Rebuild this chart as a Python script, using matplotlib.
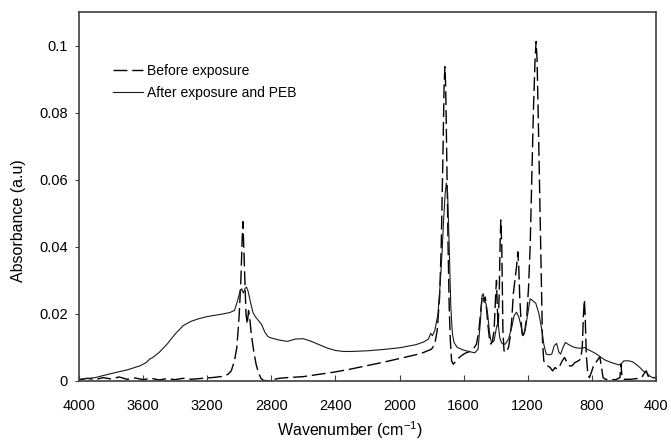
# plot.py - FTIR spectra before / after exposure
import numpy as np
import matplotlib.pyplot as plt

plt.rcParams['font.family'] = ['Liberation Sans', 'DejaVu Sans']
plt.rcParams['lines.scale_dashes'] = False

# Before exposure (dashed)
wn_before = [4000, 3950, 3900, 3850, 3800, 3750, 3700, 3650, 3600, 3550, 3500, 3450,
             3400, 3350, 3300, 3250, 3200, 3150, 3100, 3070, 3050, 3030, 3015, 3000,
             2990, 2982, 2977, 2972, 2965, 2958, 2950, 2942, 2935, 2925, 2910, 2895,
             2880, 2865, 2850, 2820, 2800, 2750, 2700, 2600, 2500, 2400, 2300, 2200,
             2100, 2000, 1900, 1850, 1800, 1780, 1765, 1750, 1740, 1730, 1722, 1717,
             1712, 1705, 1697, 1690, 1683, 1675, 1665, 1655, 1640, 1620, 1600, 1580,
             1560, 1540, 1520, 1505, 1495, 1485, 1478, 1472, 1465, 1458, 1450, 1440,
             1430, 1420, 1410, 1400, 1395, 1390, 1385, 1378, 1372, 1368, 1362, 1355,
             1348, 1335, 1320, 1310, 1300, 1290, 1280, 1270, 1262, 1256, 1250, 1242,
             1235, 1228, 1218, 1205, 1195, 1185, 1175, 1165, 1155, 1148, 1142, 1135,
             1125, 1115, 1108, 1100, 1090, 1075, 1060, 1045, 1030, 1015, 1000, 985,
             970, 955, 940, 925, 905, 885, 870, 860, 852, 847, 842, 835, 825, 815,
             800, 790, 775, 760, 750, 740, 730, 715, 690, 650, 625, 618, 612, 600,
             560, 520, 490, 470, 460, 450, 430, 410, 400]
abs_before = [0.0003, 0.0008, 0.0004, 0.0010, 0.0006, 0.0012, 0.0005, 0.0009, 0.0004, 0.0008, 0.0003, 0.0007,
              0.0004, 0.0008, 0.0005, 0.0007, 0.0009, 0.0011, 0.0014, 0.0020, 0.0030, 0.0060, 0.0100, 0.0200,
              0.0300, 0.0420, 0.0475, 0.0400, 0.0300, 0.0200, 0.0170, 0.0210, 0.0190, 0.0140, 0.0090, 0.0050,
              0.0025, 0.0008, 0.0002, 0.0000, 0.0003, 0.0008, 0.0010, 0.0013, 0.0020, 0.0027, 0.0036, 0.0046,
              0.0056, 0.0067, 0.0078, 0.0085, 0.0095, 0.0110, 0.0150, 0.0250, 0.0400, 0.0650, 0.0880, 0.0937,
              0.0880, 0.0650, 0.0400, 0.0220, 0.0120, 0.0060, 0.0050, 0.0055, 0.0065, 0.0073, 0.0080, 0.0085,
              0.0088, 0.0095, 0.0110, 0.0150, 0.0200, 0.0250, 0.0255, 0.0235, 0.0250, 0.0220, 0.0175, 0.0130,
              0.0110, 0.0120, 0.0150, 0.0260, 0.0300, 0.0220, 0.0160, 0.0260, 0.0420, 0.0480, 0.0400, 0.0150,
              0.0090, 0.0085, 0.0100, 0.0130, 0.0180, 0.0260, 0.0300, 0.0340, 0.0385, 0.0340, 0.0250, 0.0180,
              0.0140, 0.0130, 0.0150, 0.0200, 0.0280, 0.0400, 0.0600, 0.0800, 0.0950, 0.1012, 0.0960, 0.0800,
              0.0550, 0.0300, 0.0120, 0.0060, 0.0053, 0.0045, 0.0040, 0.0030, 0.0040, 0.0035, 0.0045, 0.0060,
              0.0070, 0.0055, 0.0045, 0.0045, 0.0055, 0.0060, 0.0065, 0.0100, 0.0200, 0.0242, 0.0200, 0.0080, 0.0020, 0.0010,
              0.0030, 0.0045, 0.0055, 0.0065, 0.0072, 0.0040, 0.0010, 0.0005, 0.0004, 0.0004, 0.0010, 0.0050, 0.0010, 0.0005,
              0.0005, 0.0007, 0.0010, 0.0025, 0.0030, 0.0015, 0.0008, 0.0010, 0.0010]

# After exposure and PEB (solid)
wn_after = [4000, 3900, 3800, 3700, 3620, 3580, 3560, 3540, 3500, 3450, 3400, 3350,
            3300, 3250, 3200, 3150, 3100, 3060, 3030, 3010, 2995, 2985, 2975, 2965,
            2955, 2945, 2930, 2915, 2900, 2880, 2860, 2840, 2820, 2800, 2750, 2700,
            2650, 2600, 2550, 2500, 2450, 2400, 2350, 2300, 2200, 2100, 2000, 1900,
            1850, 1820, 1805, 1795, 1780, 1760, 1745, 1735, 1725, 1715, 1708, 1700,
            1690, 1680, 1670, 1660, 1640, 1600, 1560, 1530, 1510, 1495, 1485, 1478,
            1470, 1460, 1450, 1440, 1430, 1420, 1410, 1395, 1385, 1375, 1365, 1355,
            1340, 1320, 1300, 1285, 1270, 1255, 1240, 1228, 1215, 1200, 1185, 1170,
            1150, 1130, 1115, 1100, 1085, 1065, 1050, 1035, 1020, 1005, 995, 980,
            965, 950, 920, 890, 860, 845, 830, 800, 770, 750, 720, 690, 660, 630,
            615, 600, 570, 545, 520, 500, 480, 460, 440, 420, 400]
abs_after = [0.0005, 0.0010, 0.0022, 0.0033, 0.0045, 0.0055, 0.0065, 0.0070, 0.0085, 0.0110, 0.0140, 0.0165,
             0.0178, 0.0186, 0.0192, 0.0196, 0.0200, 0.0204, 0.0210, 0.0240, 0.0268, 0.0275, 0.0262, 0.0275,
             0.0280, 0.0268, 0.0235, 0.0205, 0.0192, 0.0180, 0.0168, 0.0145, 0.0132, 0.0128, 0.0122, 0.0118,
             0.0125, 0.0126, 0.0118, 0.0108, 0.0098, 0.0091, 0.0088, 0.0088, 0.0090, 0.0094, 0.0099, 0.0108,
             0.0116, 0.0125, 0.0142, 0.0135, 0.0150, 0.0200, 0.0300, 0.0380, 0.0480, 0.0560, 0.0590, 0.0560,
             0.0400, 0.0220, 0.0140, 0.0115, 0.0100, 0.0092, 0.0087, 0.0084, 0.0095, 0.0180, 0.0255, 0.0260,
             0.0240, 0.0230, 0.0200, 0.0150, 0.0120, 0.0115, 0.0120, 0.0160, 0.0175, 0.0130, 0.0115, 0.0110,
             0.0110, 0.0125, 0.0160, 0.0195, 0.0205, 0.0190, 0.0160, 0.0135, 0.0155, 0.0200, 0.0245, 0.0240,
             0.0232, 0.0200, 0.0160, 0.0110, 0.0080, 0.0078, 0.0080, 0.0105, 0.0112, 0.0085, 0.0080, 0.0100,
             0.0115, 0.0110, 0.0102, 0.0098, 0.0098, 0.0100, 0.0095, 0.0088, 0.0080, 0.0073, 0.0063, 0.0057, 0.0052, 0.0048,
             0.0052, 0.0060, 0.0060, 0.0057, 0.0048, 0.0040, 0.0030, 0.0025, 0.0015, 0.0010, 0.0010]

x_ticks = [4000, 3600, 3200, 2800, 2400, 2000, 1600, 1200, 800, 400]
y_ticks = [0, 0.02, 0.04, 0.06, 0.08, 0.1]
y_tick_labels = ['0', '0.02', '0.04', '0.06', '0.08', '0.1']

fig = plt.figure(figsize=(6.71, 4.43), dpi=100)
ax = fig.add_axes([0.1177, 0.14, 0.8599, 0.8329])

ax.plot(wn_before, abs_before, color='black', lw=1.0, dashes=(10, 3.5), label='Before exposure')
ax.plot(wn_after, abs_after, color='#1a1a1a', lw=0.8, label='After exposure and PEB')

ax.set_xlim(4000, 400)
ax.set_ylim(0, 0.11)
ax.set_xticks(x_ticks)
ax.set_yticks(y_ticks)
ax.set_yticklabels(y_tick_labels)
ax.tick_params(axis='x', direction='in', length=4, pad=13, labelsize=10.5, color='#404040')
ax.tick_params(axis='y', direction='out', length=3, pad=5, labelsize=10.5, color='#404040')
for s in ax.spines.values():
    s.set_color('#404040')
    s.set_linewidth(1.2)

ax.set_xlabel('Wavenumber (cm$^{\\mathregular{-1}}$)', fontsize=11.5)
ax.xaxis.set_label_coords(0.47, -0.103)
ax.set_ylabel('Absorbance (a.u)', fontsize=11.5)
ax.yaxis.set_label_coords(-0.092, 0.434)

ax.legend(loc='upper left', bbox_to_anchor=(0.049, 0.874), frameon=False, fontsize=10,
          handlelength=2.2, handletextpad=0.25, labelspacing=0.55, borderaxespad=0)

plt.savefig('out.png', dpi=100)
